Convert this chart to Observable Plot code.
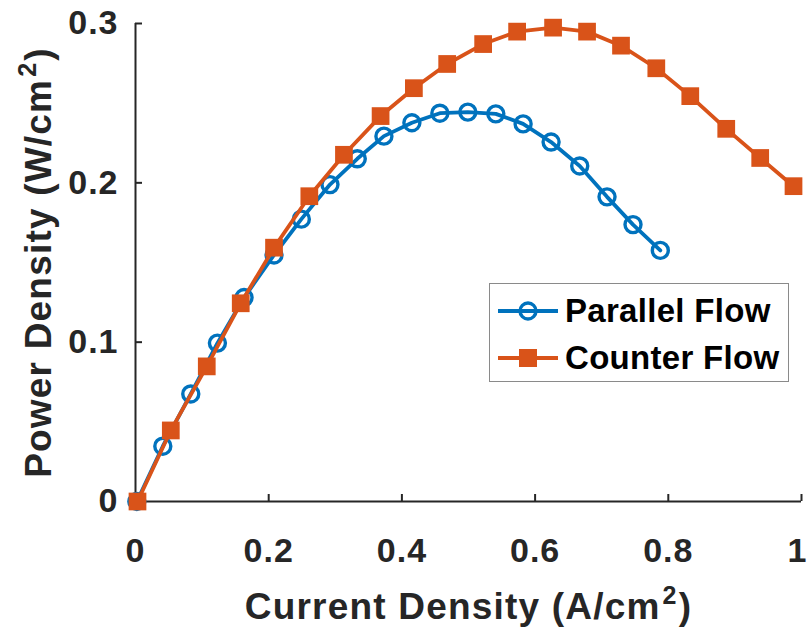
<!DOCTYPE html>
<html><head><meta charset="utf-8">
<script src="https://cdn.jsdelivr.net/npm/d3@7"></script>
<script src="https://cdn.jsdelivr.net/npm/@observablehq/plot@0.6"></script>
<style>
body{margin:0;background:#fff}
#wrap{position:relative;width:809px;height:632px;font-family:"Liberation Sans",Arial,sans-serif}
#legend{position:absolute;left:489px;top:283px;width:298px;height:97px;border:1px solid #8a8a8a;background:#fff}
.row{position:absolute;left:8px;height:40px;display:flex;align-items:center}
.row span{margin-left:7px;font-size:33px;font-weight:bold;color:#000;white-space:nowrap;letter-spacing:0.3px}
</style>
</head><body><div id="wrap"></div>
<script>
// Parallel flow (blue, open circles)
const parallelX = [0.002,0.041,0.083,0.123,0.163,0.208,0.249,0.292,0.333,0.373,0.415,0.457,0.499,0.541,0.582,0.624,0.667,0.708,0.747,0.788];
const parallelY = [0.000,0.0347,0.0675,0.0994,0.128,0.1547,0.1772,0.1989,0.2151,0.2293,0.2377,0.2437,0.2444,0.2433,0.2370,0.2256,0.2106,0.1912,0.1738,0.1576];
// Counter flow (orange, filled squares)
const counterX = [0.003,0.053,0.107,0.158,0.208,0.261,0.313,0.368,0.418,0.468,0.522,0.573,0.627,0.678,0.729,0.782,0.833,0.887,0.938,0.988];
const counterY = [0.000,0.0446,0.0848,0.1244,0.1593,0.1916,0.2176,0.2419,0.2594,0.2746,0.2871,0.2949,0.2974,0.2949,0.2861,0.2719,0.2544,0.2339,0.2156,0.1979];

const seriesNames = ["Parallel Flow","Counter Flow"];
const seriesColors = ["#0072BD","#D95319"];
const xTicks = [0,0.2,0.4,0.6,0.8,1];
const xTickLabels = ["0","0.2","0.4","0.6","0.8","1"];
const yTicks = [0,0.1,0.2,0.3];
const yTickLabels = ["0","0.1","0.2","0.3"];
const xTitle = "Current Density (A/cm²)";
const yTitle = "Power Density (W/cm²)";

const parallel = parallelX.map((x,i)=>({x, y: parallelY[i]}));
const counter = counterX.map((x,i)=>({x, y: counterY[i]}));

const W=809,H=632,mL=135,mR=8,mT=23,mB=131;
const ink="#262626";
const font='"Liberation Sans", Arial, sans-serif';

const chart = Plot.plot({
  width:W,height:H,marginLeft:mL,marginRight:mR,marginTop:mT,marginBottom:mB,
  style:{fontFamily:font, background:"#fff", color:ink},
  x:{domain:[0,1]},
  y:{domain:[0,0.3]},
  marks:[
    Plot.axisX(xTicks,{tickSize:0,tickPadding:36,tickFormat:d=>xTickLabels[xTicks.indexOf(d)],fontSize:34,fontWeight:"bold",fill:ink,label:null}),
    Plot.axisY(yTicks,{tickSize:0,tickPadding:17,tickFormat:d=>yTickLabels[yTicks.indexOf(d)],fontSize:34,fontWeight:"bold",fill:ink,label:null}),
    Plot.ruleY([0],{stroke:ink,strokeWidth:2}),
    Plot.ruleX([0],{stroke:ink,strokeWidth:2}),
    Plot.tickY(yTicks,{y:d=>d,insetRight:W-mL-mR-7,stroke:ink,strokeWidth:2}),
    Plot.tickX(xTicks,{x:d=>d,insetTop:H-mT-mB-7,stroke:ink,strokeWidth:2}),
    Plot.line(parallel,{x:"x",y:"y",stroke:seriesColors[0],strokeWidth:3.8}),
    Plot.dot(parallel,{x:"x",y:"y",r:8,stroke:seriesColors[0],strokeWidth:3.4,fill:"none"}),
    Plot.line(counter,{x:"x",y:"y",stroke:seriesColors[1],strokeWidth:3.8}),
    Plot.dot(counter,{x:"x",y:"y",symbol:"square",r:10,fill:seriesColors[1],stroke:"none"}),
    Plot.text([xTitle],{text:d=>d,frameAnchor:"bottom",textAnchor:"middle",dy:117,lineAnchor:"bottom",fontSize:37,fontWeight:"bold",fill:ink,className:"atitle"}),
    Plot.text([yTitle],{text:d=>d,frameAnchor:"left",textAnchor:"middle",dx:-85,rotate:-90,lineAnchor:"bottom",fontSize:37,fontWeight:"bold",fill:ink,className:"atitle"})
  ]
});
const wrap=document.getElementById("wrap");
wrap.appendChild(chart);

// Typography: MATLAB-like spacing and a raised superscript
d3.select(chart).selectAll("g[aria-label='x-axis tick label'] text, g[aria-label='y-axis tick label'] text").attr("letter-spacing","1px");
// keep the last x tick label inside the picture, as in the reference
d3.select(chart).selectAll("g[aria-label='x-axis tick label'] text").filter(function(){return d3.select(this).text()===xTickLabels[xTickLabels.length-1];}).attr("dx",-4);
d3.select(chart).selectAll(".atitle text").each(function(){
  const t=d3.select(this);
  const s=t.text();
  const k=s.indexOf("²");
  if(k<0) return;
  t.attr("letter-spacing","1.2px").text(null);
  t.append("tspan").text(s.slice(0,k));
  t.append("tspan").attr("font-size",25).attr("dy",-15).attr("dx",2).text("2");
  t.append("tspan").attr("dy",15).attr("dx",1).text(s.slice(k+1));
});

// Legend
const legend=document.createElement("div");
legend.id="legend";
const symbols=[
  c=>`<line x1="0" y1="20" x2="60" y2="20" stroke="${c}" stroke-width="3.8"/><circle cx="30" cy="20" r="8" fill="none" stroke="${c}" stroke-width="3.4"/>`,
  c=>`<line x1="0" y1="20" x2="60" y2="20" stroke="${c}" stroke-width="3.8"/><rect x="21" y="11" width="18" height="18" fill="${c}"/>`
];
seriesNames.forEach((name,i)=>{
  const row=document.createElement("div");
  row.className="row";
  row.style.top=(i===0?7:54)+"px";
  row.innerHTML=`<svg width="60" height="40">${symbols[i](seriesColors[i])}</svg><span>${name}</span>`;
  legend.appendChild(row);
});
wrap.appendChild(legend);
</script>
</body></html>
